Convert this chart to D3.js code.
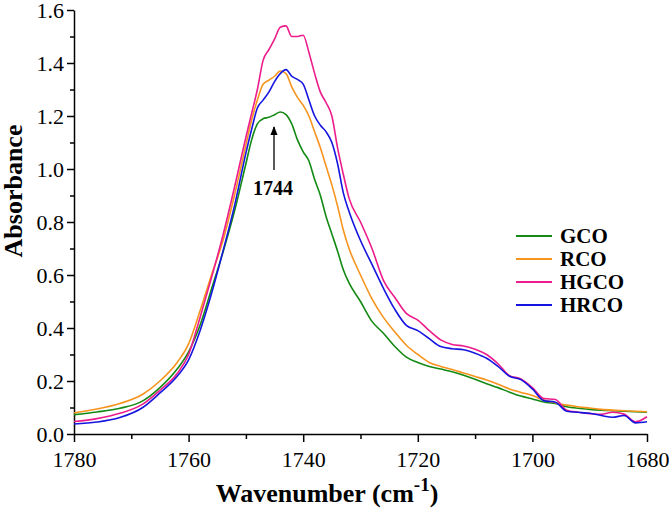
<!DOCTYPE html>
<html>
<head>
<meta charset="utf-8">
<script src="https://cdn.jsdelivr.net/npm/d3@7"></script>
<style>
  body { margin: 0; background: #fff; }
  svg text { font-family: "Liberation Serif", "Times New Roman", Times, serif; }
</style>
</head>
<body>
<svg id="chart" width="671" height="513"></svg>
<script>
"use strict";

// wavenumber grid (cm-1), shared by all series
var wavenumbers = [1780, 1776, 1772, 1768, 1765, 1762, 1760, 1758, 1756, 1754, 1752, 1750,
  1749, 1748, 1747, 1746, 1745, 1744, 1743, 1742, 1741, 1740, 1739, 1738, 1737, 1736,
  1735, 1734, 1733, 1732, 1730, 1728, 1726, 1724, 1722, 1720, 1718, 1716, 1714, 1712,
  1710, 1708, 1706, 1704, 1702, 1700, 1698, 1696, 1694, 1692, 1690, 1688, 1686, 1684,
  1682, 1680];

var gco = [0.073, 0.083, 0.097, 0.125, 0.175, 0.245, 0.31, 0.41, 0.547, 0.686, 0.84, 1.02,
  1.11, 1.17, 1.19, 1.195, 1.205, 1.215, 1.205, 1.17, 1.11, 1.065, 1.03, 0.96, 0.90, 0.82,
  0.755, 0.69, 0.62, 0.57, 0.50, 0.425, 0.38, 0.33, 0.29, 0.27, 0.255, 0.245, 0.235, 0.222,
  0.207, 0.19, 0.175, 0.158, 0.143, 0.132, 0.121, 0.115, 0.103, 0.097, 0.093, 0.09, 0.088, 0.086,
  0.084, 0.082];

var rco = [0.080, 0.094, 0.115, 0.15, 0.20, 0.27, 0.34, 0.465, 0.60, 0.73, 0.90, 1.09,
  1.185, 1.26, 1.32, 1.335, 1.35, 1.37, 1.36, 1.31, 1.27, 1.24, 1.20, 1.14, 1.08, 1.01,
  0.94, 0.86, 0.77, 0.70, 0.60, 0.51, 0.44, 0.385, 0.335, 0.30, 0.27, 0.255, 0.243, 0.23,
  0.217, 0.204, 0.188, 0.17, 0.157, 0.145, 0.128, 0.118, 0.109, 0.103, 0.098, 0.093, 0.09, 0.088,
  0.086, 0.084];

var hgco = [0.047, 0.058, 0.078, 0.113, 0.165, 0.228, 0.30, 0.44, 0.59, 0.75, 0.93, 1.12,
  1.21, 1.30, 1.41, 1.45, 1.49, 1.535, 1.54, 1.50, 1.50, 1.505, 1.44, 1.36, 1.29, 1.25,
  1.20, 1.08, 0.98, 0.89, 0.80, 0.70, 0.58, 0.515, 0.455, 0.43, 0.39, 0.355, 0.338, 0.332,
  0.32, 0.30, 0.265, 0.22, 0.208, 0.175, 0.134, 0.13, 0.09, 0.082, 0.077, 0.074, 0.082, 0.075,
  0.046, 0.065];

var hrco = [0.038, 0.045, 0.062, 0.10, 0.155, 0.218, 0.28, 0.39, 0.53, 0.69, 0.86, 1.06,
  1.15, 1.23, 1.26, 1.29, 1.33, 1.36, 1.375, 1.35, 1.338, 1.32, 1.26, 1.20, 1.165, 1.14,
  1.10, 1.02, 0.91, 0.84, 0.73, 0.64, 0.55, 0.47, 0.41, 0.39, 0.36, 0.33, 0.322, 0.318,
  0.305, 0.286, 0.255, 0.218, 0.205, 0.17, 0.126, 0.12, 0.086, 0.082, 0.078, 0.07, 0.063, 0.07,
  0.042, 0.046];

var seriesNames  = ["GCO", "RCO", "HGCO", "HRCO"];
var seriesValues = [gco, rco, hgco, hrco];
var seriesColors = ["#138a13", "#f7941d", "#ec1c8c", "#1515e0"];

var xTicks = [1780, 1760, 1740, 1720, 1700, 1680];
var yTicks = [0.0, 0.2, 0.4, 0.6, 0.8, 1.0, 1.2, 1.4, 1.6];
var peakLabel = 1744;

var serif = "'Liberation Serif', 'Times New Roman', Times, serif";
var svg = d3.select("#chart");

var x = d3.scaleLinear().domain([1780, 1680]).range([74, 647]);
var y = d3.scaleLinear().domain([0, 1.6]).range([434, 10]);

// minor ticks
svg.append("g")
  .attr("transform", "translate(0,434)")
  .call(d3.axisBottom(x).tickValues(d3.range(1770, 1680, -20)).tickSize(5).tickFormat(""))
  .call(function(g) { g.select(".domain").remove(); });
svg.append("g")
  .attr("transform", "translate(74,0)")
  .call(d3.axisLeft(y).tickValues(d3.range(0.1, 1.6, 0.2)).tickSize(4).tickFormat(""))
  .call(function(g) { g.select(".domain").remove(); });

// major axes
var xAxis = svg.append("g")
  .attr("transform", "translate(0,434)")
  .call(d3.axisBottom(x).tickValues(xTicks).tickSize(8).tickSizeOuter(0).tickPadding(9).tickFormat(d3.format("d")));
var yAxis = svg.append("g")
  .attr("transform", "translate(74,0)")
  .call(d3.axisLeft(y).tickValues(yTicks).tickSize(7).tickSizeOuter(0).tickPadding(3).tickFormat(d3.format(".1f")));

svg.selectAll(".tick line, .domain")
  .attr("stroke", "#000")
  .attr("stroke-width", 1.5);
[xAxis, yAxis].forEach(function(g) {
  g.attr("font-family", serif);
  g.selectAll("text")
    .attr("fill", "#000")
    .attr("font-family", serif)
    .style("font-size", "22px");
});
yAxis.selectAll("text").attr("dy", "0.34em");

// curves
var line = d3.line()
  .x(function(d) { return x(d[0]); })
  .y(function(d) { return y(d[1]); })
  .curve(d3.curveMonotoneX);

seriesValues.forEach(function(vals, i) {
  svg.append("path")
    .datum(wavenumbers.map(function(w, j) { return [w, vals[j]]; }))
    .attr("fill", "none")
    .attr("stroke", seriesColors[i])
    .attr("stroke-width", 1.6)
    .attr("stroke-linejoin", "round")
    .attr("d", line);
});

// peak annotation
svg.append("defs").append("marker")
  .attr("id", "arrow")
  .attr("viewBox", "0 0 10 10")
  .attr("refX", 9).attr("refY", 5)
  .attr("markerWidth", 7).attr("markerHeight", 7)
  .attr("orient", "auto")
  .append("path")
    .attr("d", "M0,1 L10,5 L0,9 Z")
    .attr("fill", "#000");
svg.append("line")
  .attr("x1", 274).attr("y1", 170)
  .attr("x2", 274).attr("y2", 127)
  .attr("stroke", "#000")
  .attr("stroke-width", 1.3)
  .attr("marker-end", "url(#arrow)");
svg.append("text")
  .attr("x", 273).attr("y", 195)
  .attr("text-anchor", "middle")
  .attr("font-family", serif)
  .style("font-size", "20px")
  .style("font-weight", "bold")
  .text(peakLabel);

// legend
var legendY = [236, 259, 282, 305];
var legend = svg.append("g");
seriesNames.forEach(function(name, i) {
  legend.append("line")
    .attr("x1", 516).attr("x2", 552)
    .attr("y1", legendY[i]).attr("y2", legendY[i])
    .attr("stroke", seriesColors[i])
    .attr("stroke-width", 2);
  legend.append("text")
    .attr("x", 560).attr("y", legendY[i])
    .attr("dy", "0.35em")
    .attr("font-family", serif)
    .style("font-size", "21px")
    .style("font-weight", "bold")
    .text(name);
});

// axis titles
svg.append("text")
  .attr("transform", "translate(22,191) rotate(-90)")
  .attr("text-anchor", "middle")
  .attr("font-family", serif)
  .style("font-size", "26px")
  .style("font-weight", "bold")
  .text("Absorbance");

var xt = svg.append("text")
  .attr("x", 327).attr("y", 502)
  .attr("text-anchor", "middle")
  .attr("font-family", serif)
  .style("font-size", "26px")
  .style("font-weight", "bold");
xt.append("tspan").text("Wavenumber (cm");
xt.append("tspan").attr("dy", -11).style("font-size", "19px").text("-1");
xt.append("tspan").attr("dy", 11).text(")");
</script>
</body>
</html>
